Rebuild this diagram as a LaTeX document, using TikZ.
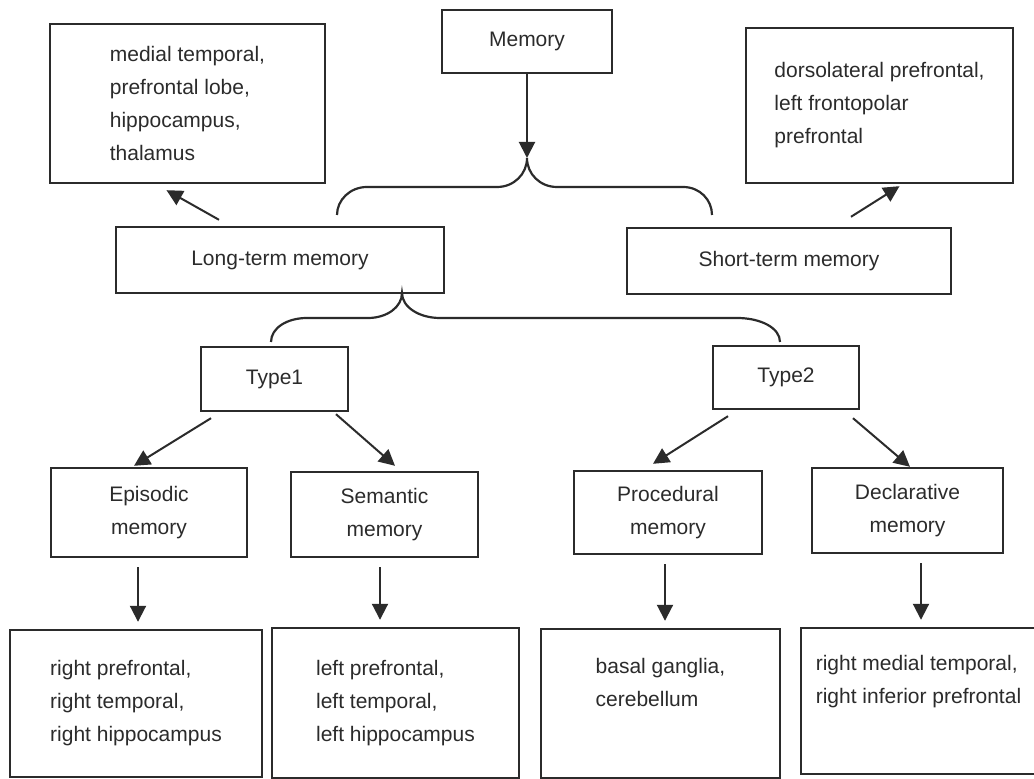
\documentclass[tikz,border=0pt]{standalone}
\usepackage{fontspec}
\setmainfont{Liberation Sans}
\usetikzlibrary{arrows.meta,calc}
\definecolor{ink}{HTML}{2B2B2B}
\tikzset{
  box/.style={draw=ink, line width=1.2pt, inner sep=0pt, text=ink, align=center,
    font=\fontsize{10.5}{16.5}\selectfont},
  regbox/.style={box, align=left},
  arr/.style={draw=ink, line width=1pt, -{Triangle[length=8pt,width=8pt]}},
  fork/.style={draw=ink, line width=1.1pt},
}

\begin{document}
\begin{tikzpicture}[x=0.5pt, y=-0.5pt]
\useasboundingbox (0,0) rectangle (1034,779);

% --- Top level ---
\node[box, minimum width=85pt, minimum height=31.5pt] (mem) at (527,41.5) {Memory};
\node[box, minimum width=164pt, minimum height=33pt] (ltm) at (280,260) {Long-term memory};
\node[box, minimum width=162pt, minimum height=33pt] (stm) at (789,261) {Short-term memory};

% brain regions of long / short term
\node[regbox, minimum width=137.5pt, minimum height=79.5pt] (ltmreg) at (187.5,103.5)
  {medial temporal,\\prefrontal lobe,\\hippocampus,\\thalamus};
\node[regbox, minimum width=133.5pt, minimum height=77.5pt] (stmreg) at (879.5,105.5)
  {dorsolateral prefrontal,\\left frontopolar\\prefrontal};

% Memory splits
\coordinate (memfork) at (527,158);
\coordinate (ltmtop) at (337,215);
\coordinate (stmtop) at (712,215);
\draw[fork] (ltmtop) .. controls (337,200) and (350,187) .. (367,187) -- (497,187)
  .. controls (514,187) and (527,174) .. (memfork)
  .. controls (527,174) and (540,187) .. (557,187) -- (683,187)
  .. controls (700,187) and (712,200) .. (stmtop);
\draw[arr] (mem) -- (memfork);

\draw[arr] ($(ltm.north)+(-61,-6)$) -- ($(ltmreg.south)+(-21,6)$);
\draw[arr] ($(stm.north)+(62,-10)$) -- ($(stmreg.south)+(20,2)$);

% --- Long-term types ---
\node[box, minimum width=73.5pt, minimum height=32pt] (type1) at (274.5,379) {Type1};
\node[box, minimum width=73pt, minimum height=31.5pt] (type2) at (786,377.5) {Type2};

\coordinate (ltmfork) at (402,293);
\coordinate (type1top) at (271,342);
\coordinate (type2top) at (780,342);
\draw[fork] (type1top) .. controls (271,328) and (287,318) .. (307,318) -- (368,318)
  .. controls (387,318) and (402,307) .. (ltmfork)
  .. controls (402,307) and (419,318) .. (440,318) -- (737,318)
  .. controls (761,318) and (780,328) .. (type2top);

% --- Sub types ---
\node[box, minimum width=98pt, minimum height=44.5pt] (epi) at (149,512.5) {Episodic\\memory};
\node[box, minimum width=93.5pt, minimum height=42.5pt] (sem) at (384.5,514.5) {Semantic\\memory};
\node[box, minimum width=94pt, minimum height=41.5pt] (pro) at (668,512.5) {Procedural\\memory};
\node[box, minimum width=95.5pt, minimum height=42.5pt] (dec) at (907.5,510.5) {Declarative\\memory};

\draw[arr] ($(type1.south)+(-63.5,6)$) -- ($(epi.north)+(-15,-1)$);
\draw[arr] ($(type1.south)+(61.5,2)$) -- ($(sem.north)+(10.5,-5)$);
\draw[arr] ($(type2.south)+(-58,6)$) -- ($(pro.north)+(-15,-6)$);
\draw[arr] ($(type2.south)+(67,8)$) -- ($(dec.north)+(2.5,0)$);

% --- Brain regions ---
\node[regbox, minimum width=126pt, minimum height=73.5pt] (epireg) at (136,703.5)
  {right prefrontal,\\right temporal,\\right hippocampus};
\node[regbox, minimum width=123.5pt, minimum height=75pt] (semreg) at (395.5,703)
  {left prefrontal,\\left temporal,\\left hippocampus};
\node[regbox, minimum width=119.5pt, minimum height=74.5pt] (proreg) at (660.5,703.5)
  {basal ganglia,\\cerebellum\\\strut};
\node[regbox, minimum width=117.5pt, minimum height=73pt] (decreg) at (918.5,701)
  {right medial temporal,\\right inferior prefrontal\\\strut};

\draw[arr] ($(epi.south)+(-11,9)$) -- ($(epireg.north)+(2,-7)$);
\draw[arr] ($(sem.south)+(-4.5,9)$) -- ($(semreg.north)+(-15.5,-7)$);
\draw[arr] ($(pro.south)+(-3,9)$) -- ($(proreg.north)+(4.5,-7)$);
\draw[arr] ($(dec.south)+(13.5,9)$) -- ($(decreg.north)+(2.5,-7)$);
\end{tikzpicture}
\end{document}
